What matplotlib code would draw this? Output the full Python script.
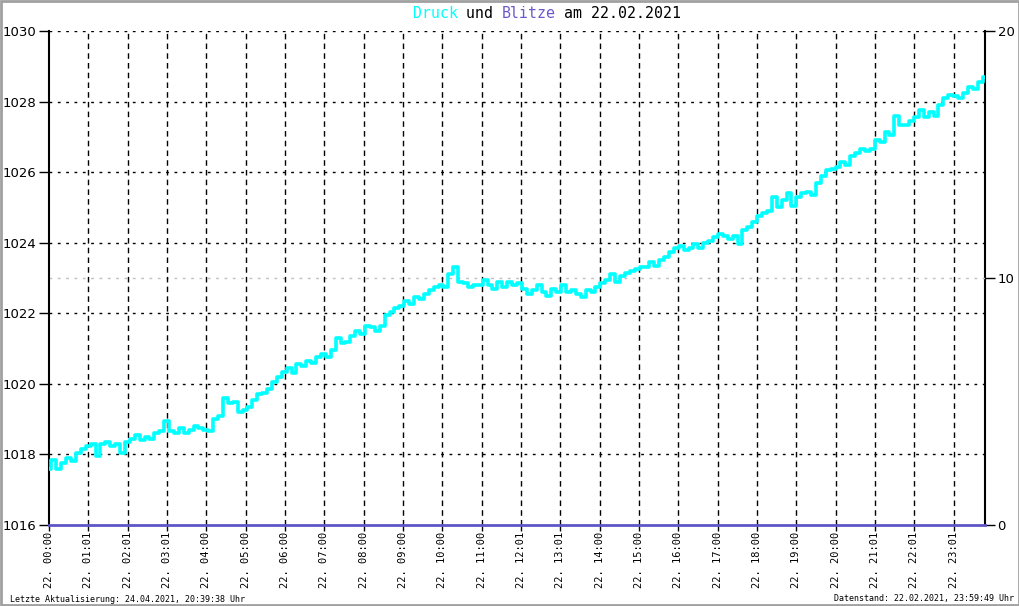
import numpy as np
import matplotlib
matplotlib.use("Agg")
import matplotlib.pyplot as plt

# ---- data -------------------------------------------------------------
hour_labels = ["22. 00:00", "22. 01:01", "22. 02:01", "22. 03:01", "22. 04:00",
               "22. 05:00", "22. 06:00", "22. 07:00", "22. 08:00", "22. 09:00",
               "22. 10:00", "22. 11:00", "22. 12:01", "22. 13:01", "22. 14:00",
               "22. 15:00", "22. 16:00", "22. 17:00", "22. 18:00", "22. 19:00",
               "22. 20:00", "22. 21:01", "22. 22:01", "22. 23:01"]

# pressure (hPa), 8 samples per hour
pressure = [
    1017.60, 1017.85, 1017.60, 1017.75, 1017.90, 1017.80, 1018.05, 1018.15,
    1018.25, 1018.30, 1017.95, 1018.30, 1018.35, 1018.25, 1018.30, 1018.05,
    1018.35, 1018.45, 1018.55, 1018.40, 1018.50, 1018.45, 1018.60, 1018.65,
    1018.95, 1018.65, 1018.60, 1018.75, 1018.60, 1018.70, 1018.80, 1018.75,
    1018.70, 1018.65, 1019.00, 1019.10, 1019.60, 1019.45, 1019.50, 1019.20,
    1019.25, 1019.35, 1019.55, 1019.70, 1019.75, 1019.85, 1020.05, 1020.20,
    1020.35, 1020.45, 1020.30, 1020.55, 1020.50, 1020.65, 1020.60, 1020.75,
    1020.85, 1020.75, 1020.95, 1021.30, 1021.15, 1021.20, 1021.35, 1021.50,
    1021.40, 1021.65, 1021.60, 1021.50, 1021.65, 1021.95, 1022.05, 1022.15,
    1022.20, 1022.35, 1022.25, 1022.45, 1022.40, 1022.55, 1022.65, 1022.75,
    1022.80, 1022.75, 1023.10, 1023.30, 1022.90, 1022.85, 1022.75, 1022.80,
    1022.80, 1022.95, 1022.80, 1022.70, 1022.90, 1022.75, 1022.90, 1022.80,
    1022.85, 1022.70, 1022.55, 1022.65, 1022.80, 1022.60, 1022.50, 1022.70,
    1022.60, 1022.80, 1022.60, 1022.65, 1022.55, 1022.45, 1022.65, 1022.60,
    1022.75, 1022.85, 1022.95, 1023.10, 1022.90, 1023.05, 1023.15, 1023.20,
    1023.25, 1023.30, 1023.30, 1023.45, 1023.35, 1023.50, 1023.60, 1023.75,
    1023.85, 1023.90, 1023.80, 1023.85, 1023.95, 1023.85, 1024.00, 1024.05,
    1024.15, 1024.25, 1024.20, 1024.10, 1024.20, 1023.95, 1024.35, 1024.45,
    1024.60, 1024.75, 1024.85, 1024.90, 1025.30, 1025.00, 1025.20, 1025.40,
    1025.05, 1025.30, 1025.40, 1025.45, 1025.35, 1025.70, 1025.90, 1026.05,
    1026.10, 1026.15, 1026.30, 1026.20, 1026.45, 1026.55, 1026.65, 1026.60,
    1026.65, 1026.90, 1026.85, 1027.15, 1027.05, 1027.60, 1027.35, 1027.35,
    1027.45, 1027.55, 1027.75, 1027.55, 1027.70, 1027.60, 1027.90, 1028.10,
    1028.20, 1028.15, 1028.10, 1028.25, 1028.40, 1028.35, 1028.55, 1028.70,
]
samples_per_hour = 8
hours = np.arange(len(pressure)) / samples_per_hour * (23.8 / 23.875)

lightning_hours = []
lightning_counts = []

# ---- figure -----------------------------------------------------------
W, H = 1020, 606
fig = plt.figure(figsize=(W / 100, H / 100), dpi=100)
fig.patch.set_facecolor("white")

L, R, T, B = 49, 985, 31, 525
ax = fig.add_axes([L / W, 1 - B / H, (R - L) / W, (B - T) / H])
ax2 = ax.twinx()

xmax = 23.8
ax.set_xlim(0, xmax)
ax.set_ylim(1016, 1030)
ax2.set_ylim(0, 20)

# grids
for y in range(1018, 1031, 2):
    ax.axhline(y, color="black", lw=1, ls=(0, (2, 4)), zorder=1)
ax.axhline(1023, color="#c0c0c0", lw=1, ls=(0, (2, 4)), zorder=1)
for h in range(1, 24):
    ax.axvline(h, color="black", lw=1, ls=(0, (4, 3)), zorder=1)

# pressure line
ax.plot(hours, pressure, color="#00ffff", lw=2.6, drawstyle="steps-mid", zorder=3)

# lightning (none)
if lightning_hours:
    ax2.bar(lightning_hours, lightning_counts, width=0.05, color="#6a5acd")

# spines
for a in (ax, ax2):
    a.spines["top"].set_visible(False)
ax.spines["left"].set_color("black")
ax.spines["left"].set_linewidth(1.5)
ax2.spines["right"].set_color("black")
ax2.spines["right"].set_linewidth(1.5)
ax.spines["right"].set_visible(False)
ax2.spines["left"].set_visible(False)
ax.spines["bottom"].set_color("#5f55c8")
ax.spines["bottom"].set_linewidth(2)
ax2.spines["bottom"].set_visible(False)
ax.set_zorder(2)
ax.patch.set_visible(False)

# ticks
ax.set_yticks(range(1016, 1031, 2))
ax.set_yticklabels([str(v) for v in range(1016, 1031, 2)],
                   fontsize=9.5, family="DejaVu Sans")
ax.tick_params(axis="y", length=7, width=1, pad=2, color="black")
ax2.set_yticks([0, 10, 20])
ax2.set_yticklabels(["0", "10", "20"], fontsize=9.5, family="DejaVu Sans")
ax2.tick_params(axis="y", length=7, width=1, pad=2, color="black")

ax.set_xticks(range(24))
ax.set_xticklabels(hour_labels, rotation=90, fontsize=7.5,
                   family="DejaVu Sans Mono", va="top")
ax.tick_params(axis="x", length=4, width=1, pad=1, color="black")

# title
title_parts = [("Druck", "#00ffff"), (" und ", "black"), ("Blitze", "#6a5acd"),
               (" am 22.02.2021", "black")]
cw = 8.9
x0 = 413
for txt, col in title_parts:
    fig.text(x0 / W, 1 - 13 / H, txt, color=col, fontsize=10.7,
             family="DejaVu Sans Mono", ha="left", va="center")
    x0 += cw * len(txt)

fig.text(10 / W, 1 - 599 / H, "Letzte Aktualisierung: 24.04.2021, 20:39:38 Uhr",
         fontsize=6, family="DejaVu Sans Mono", ha="left", va="center")
fig.text(1014 / W, 1 - 599 / H, "Datenstand: 22.02.2021, 23:59:49 Uhr",
         fontsize=6, family="DejaVu Sans Mono", ha="right", va="center")

# outer border
fig.patches.append(plt.Rectangle((0.001, 0.001), 0.998, 0.997, transform=fig.transFigure,
                                 fill=False, edgecolor="#a0a0a0", lw=2))

fig.savefig("out.png", dpi=100, facecolor="white")
